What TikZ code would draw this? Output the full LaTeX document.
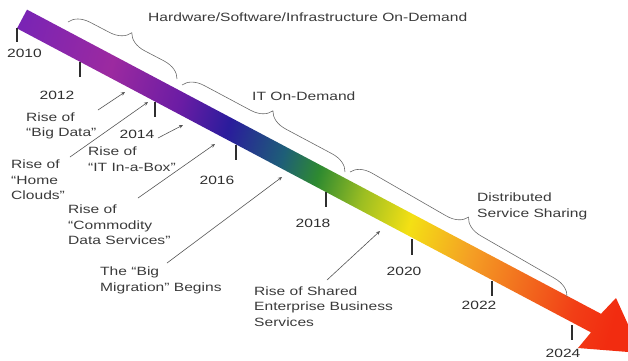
\documentclass[tikz,border=0pt]{standalone}
\usepackage{fontspec}
\setmainfont{Liberation Sans}[FakeStretch=1.3]
\usetikzlibrary{arrows.meta,decorations.pathreplacing}

\definecolor{labelgray}{HTML}{3A3A3A}
\definecolor{yeargray}{HTML}{2E2E2E}
\definecolor{pointgray}{HTML}{555555}
\definecolor{bracegray}{HTML}{6A6A6A}
\definecolor{bandviolet}{HTML}{7A24B4}
\definecolor{bandmagenta}{HTML}{9C2AA0}
\definecolor{bandpurple}{HTML}{6A1CA4}
\definecolor{bandblue}{HTML}{2A1C9C}
\definecolor{bandteal}{HTML}{1E5E78}
\definecolor{bandgreen}{HTML}{2E8A30}
\definecolor{bandlime}{HTML}{9CBE22}
\definecolor{bandyellow}{HTML}{F4E014}
\definecolor{bandorange}{HTML}{F4A024}
\definecolor{banddeep}{HTML}{F26C1E}
\definecolor{bandred}{HTML}{F23E16}
\definecolor{arrowred}{HTML}{F22C10}

\pgfdeclarehorizontalshading{timeband}{100bp}{color(0bp)=(bandviolet); color(19.7bp)=(bandviolet);
  color(28.4bp)=(bandmagenta); color(35.3bp)=(bandpurple); color(40bp)=(bandblue);
  color(45.4bp)=(bandteal); color(48.9bp)=(bandgreen); color(53.3bp)=(bandlime);
  color(58bp)=(bandyellow); color(63.9bp)=(bandorange); color(69.3bp)=(banddeep);
  color(74.3bp)=(bandred); color(78bp)=(arrowred); color(100bp)=(arrowred)}

\begin{document}
\begin{tikzpicture}[x=1pt,y=-1pt,
    txt/.style={text=labelgray, inner sep=0pt, align=left, anchor=west,
      font=\fontsize{12}{15.5}\selectfont},
    year/.style={text=yeargray, inner sep=0pt, font=\fontsize{12}{15.5}\selectfont},
    tick/.style={line width=2.6pt, yeargray},
    pointer/.style={draw=pointgray, line width=0.6pt, -{Stealth[length=4pt,width=3.5pt]}},
    brace/.style={draw=bracegray, line width=0.6pt, decorate,
      decoration={brace, amplitude=20pt}}]
  \useasboundingbox (0,0) rectangle (628,360);
  \clip (0,0) rectangle (628,360);

  % Time band and arrow head
  \shade[shading=timeband, shading angle=-16.3]
    (27,9.6) -- (601,313.8) -- (616,298) -- (641,353) -- (578,348)
    -- (591,332.4) -- (17,28.4) -- cycle;

  % Year ticks
  \draw[tick] (17,28) -- ++(0,14);
  \draw[tick] (80,62) -- ++(0,15);
  \draw[tick] (155,102) -- ++(0,15);
  \draw[tick] (236,145) -- ++(0,15);
  \draw[tick] (326,192) -- ++(0,15);
  \draw[tick] (412,239) -- ++(0,16);
  \draw[tick] (492,281) -- ++(0,15);
  \draw[tick] (572,325) -- ++(0,15);

  % Years
  \node[year] (y2010) at (24.5,53.5) {2010};
  \node[year] (y2012) at (57,95) {2012};
  \node[year] (y2014) at (137,134) {2014};
  \node[year] (y2016) at (217,180.5) {2016};
  \node[year] (y2018) at (313,223) {2018};
  \node[year] (y2020) at (404,271) {2020};
  \node[year] (y2022) at (479,305.5) {2022};
  \node[year] (y2024) at (563,353) {2024};

  % Eras
  \draw[brace] (68,22) -- (177,79);
  \draw[brace] (182,85) -- (345,172);
  \draw[brace] (350,172) -- (567,297);
  \node[txt] (hwdemand) at (148,17.5) {Hardware/Software/Infrastructure On-Demand};
  \node[txt] (itdemand) at (252,96) {IT On-Demand};
  \node[txt] (sharing) at (477,206.5) {Distributed\\Service Sharing};

  % Events
  \node[txt] (bigdata) at (26,126) {Rise of\\“Big Data”};
  \node[txt] (itbox) at (88,159) {Rise of\\“IT In-a-Box”};
  \node[txt] (clouds) at (11,180) {Rise of\\“Home\\Clouds”};
  \node[txt] (commodity) at (68,225) {Rise of\\“Commodity\\Data Services”};
  \node[txt] (migration) at (100,280.5) {The “Big\\Migration” Begins};
  \node[txt] (shared) at (254,306.5) {Rise of Shared\\Enterprise Business\\Services};

  \coordinate (bigdataT) at (98,110);   \coordinate (bigdataH) at (125,92);
  \coordinate (cloudsT) at (70,157);    \coordinate (cloudsH) at (148,102);
  \coordinate (itboxT) at (158,138);    \coordinate (itboxH) at (183,125);
  \coordinate (commodityT) at (138,198); \coordinate (commodityH) at (215,144);
  \coordinate (migrationT) at (167,263); \coordinate (migrationH) at (282,177);
  \coordinate (sharedT) at (327,280);   \coordinate (sharedH) at (380,231);

  \draw[pointer] (bigdataT) -- (bigdataH);
  \draw[pointer] (cloudsT) -- (cloudsH);
  \draw[pointer] (itboxT) -- (itboxH);
  \draw[pointer] (commodityT) -- (commodityH);
  \draw[pointer] (migrationT) -- (migrationH);
  \draw[pointer] (sharedT) -- (sharedH);
\end{tikzpicture}
\end{document}
